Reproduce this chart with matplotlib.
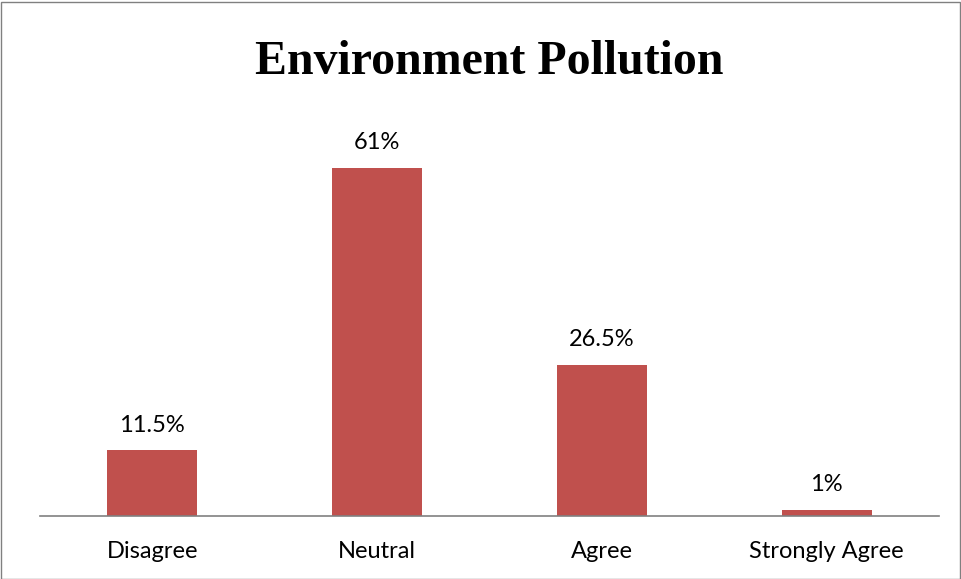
import matplotlib.pyplot as plt
from matplotlib.patches import Rectangle

categories = ['Disagree', 'Neutral', 'Agree', 'Strongly Agree']
values = [11.5, 61, 26.5, 1]
labels = ['11.5%', '61%', '26.5%', '1%']

bar_color = '#C0504D'
label_font = 'Lato'

fig = plt.figure(figsize=(9.61, 5.79), dpi=100)
ax = fig.add_axes([40 / 961, 63 / 579, 899 / 961, 400 / 579])

x = range(len(categories))
ax.bar(x, values, width=0.4, color=bar_color)
for xi, v, lab in zip(x, values, labels):
    ax.text(xi, v + 2.6, lab, ha='center', va='bottom', fontsize=17, family=label_font)

ax.set_xlim(-0.5, len(categories) - 0.5)
ax.set_ylim(0, 400 / 5.705)
ax.set_xticks(list(x))
ax.set_xticklabels(categories, fontsize=17, family=label_font)
ax.tick_params(axis='x', length=0, pad=18)
ax.set_yticks([])
for side in ['left', 'right', 'top']:
    ax.spines[side].set_visible(False)
ax.spines['bottom'].set_color('#808080')
ax.spines['bottom'].set_linewidth(1.2)

fig.text(489 / 961, 1 - 62 / 579, 'Environment Pollution', ha='center', va='center',
         fontsize=34.5, fontweight='bold', family='Liberation Serif')

fig.patches.append(Rectangle((0.5 / 961, 0.5 / 579), 959 / 961, 577 / 579, transform=fig.transFigure,
                             fill=False, edgecolor='#808080', linewidth=1))

fig.savefig('out.png', dpi=100)
